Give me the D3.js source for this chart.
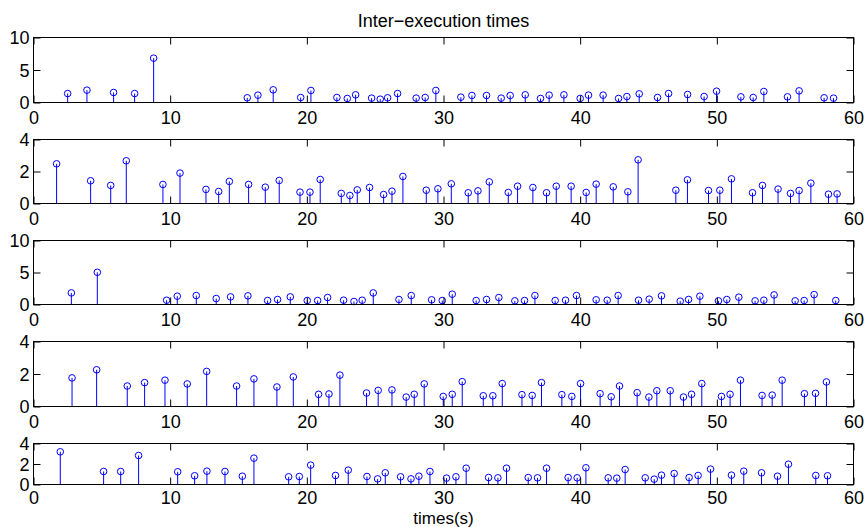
<!DOCTYPE html>
<html>
<head>
<meta charset="utf-8">
<script src="https://cdn.jsdelivr.net/npm/d3@7"></script>
<style>
  body { margin: 0; background: #fff; }
  svg text { font-family: "Liberation Sans", Arial, Helvetica, sans-serif; fill: #000; }
</style>
</head>
<body>
<div id="chart"></div>
<script>
// Inter-execution times, one stem panel per task
const t1 = [2.50, 3.91, 5.86, 7.40, 8.79, 15.64, 16.42, 17.54, 19.55, 20.30, 22.20, 22.96, 23.57, 24.74, 25.37, 25.91, 26.64, 28.00, 28.66, 29.44,
  31.27, 32.08, 33.15, 34.22, 34.88, 35.98, 37.10, 37.73, 38.81, 40.00, 40.61, 41.68, 42.81, 43.42, 44.32, 45.66, 46.47, 47.86, 49.07, 49.98,
  51.76, 52.66, 53.44, 55.17, 56.02, 57.85, 58.54];
const v1 = [1.38, 1.90, 1.54, 1.38, 6.82, 0.72, 1.13, 1.95, 0.77, 1.85, 0.77, 0.62, 1.18, 0.67, 0.51, 0.72, 1.38, 0.67, 0.77, 1.85,
  0.82, 1.08, 1.08, 0.67, 1.08, 1.18, 0.62, 1.13, 1.18, 0.62, 1.13, 1.13, 0.62, 0.92, 1.33, 0.77, 1.38, 1.23, 0.92, 1.74,
  0.87, 0.77, 1.69, 0.87, 1.79, 0.72, 0.67];

const t2 = [1.69, 4.18, 5.65, 6.79, 9.47, 10.72, 12.62, 13.55, 14.33, 15.74, 16.96, 17.98, 19.50, 20.23, 20.98, 22.52, 23.15, 23.69, 24.59, 25.62,
  26.23, 27.03, 28.74, 29.59, 30.57, 31.81, 32.52, 33.35, 34.74, 35.42, 36.54, 37.54, 38.25, 39.34, 40.44, 41.17, 42.42, 43.49, 44.24, 47.00,
  47.85, 49.39, 50.22, 51.07, 52.61, 53.34, 54.48, 55.39, 56.02, 56.88, 58.17, 58.80];
const v2 = [2.48, 1.42, 1.13, 2.67, 1.19, 1.90, 0.88, 0.75, 1.38, 1.19, 1.02, 1.44, 0.71, 0.71, 1.50, 0.63, 0.50, 0.85, 1.00, 0.56,
  0.77, 1.69, 0.83, 0.92, 1.23, 0.67, 0.79, 1.35, 0.69, 1.08, 1.00, 0.67, 1.08, 1.08, 0.69, 1.21, 1.04, 0.73, 2.73, 0.83,
  1.48, 0.81, 0.83, 1.54, 0.67, 1.13, 0.90, 0.63, 0.81, 1.27, 0.58, 0.60];

const t3 = [2.77, 4.67, 9.74, 10.52, 11.91, 13.37, 14.42, 15.69, 17.13, 17.86, 18.79, 20.03, 20.79, 21.52, 22.69, 23.45, 24.05, 24.86, 26.74, 27.64,
  29.13, 29.91, 30.64, 32.39, 33.15, 34.05, 35.22, 35.93, 36.69, 38.17, 38.93, 39.73, 41.17, 41.98, 42.78, 44.27, 45.05, 45.95, 47.32, 47.93,
  48.76, 50.12, 50.73, 51.61, 52.80, 53.44, 54.19, 55.73, 56.39, 57.12, 58.70];
const v3 = [1.81, 5.03, 0.67, 1.30, 1.40, 0.93, 1.19, 1.35, 0.62, 0.78, 1.19, 0.62, 0.62, 1.09, 0.67, 0.47, 0.67, 1.81, 0.78, 1.40,
  0.73, 0.62, 1.61, 0.62, 0.78, 1.09, 0.57, 0.62, 1.40, 0.62, 0.67, 1.40, 0.73, 0.67, 1.40, 0.67, 0.83, 1.35, 0.52, 0.78,
  1.30, 0.57, 0.78, 1.14, 0.57, 0.67, 1.50, 0.57, 0.62, 1.55, 0.62];

const t4 = [2.82, 4.62, 6.86, 8.13, 9.62, 11.25, 12.67, 14.86, 16.13, 17.81, 19.01, 20.86, 21.62, 22.42, 24.37, 25.22, 26.23, 27.27, 27.86, 28.59,
  29.98, 30.64, 31.37, 32.91, 33.61, 34.30, 35.74, 36.49, 37.17, 38.66, 39.39, 40.03, 41.46, 42.27, 42.88, 44.17, 45.03, 45.61, 46.59, 47.56,
  48.15, 48.90, 50.34, 50.97, 51.73, 53.31, 54.05, 54.78, 56.41, 57.22, 58.02];
const v4 = [1.76, 2.26, 1.26, 1.47, 1.62, 1.39, 2.16, 1.26, 1.70, 1.20, 1.82, 0.75, 0.77, 1.93, 0.83, 0.99, 1.02, 0.58, 0.75, 1.39,
  0.62, 0.75, 1.53, 0.66, 0.66, 1.41, 0.73, 0.68, 1.47, 0.73, 0.62, 1.41, 0.79, 0.60, 1.26, 0.85, 0.58, 0.97, 0.97, 0.58,
  0.75, 1.41, 0.62, 0.75, 1.62, 0.68, 0.70, 1.62, 0.79, 0.81, 1.51];

const t5 = [1.96, 5.13, 6.38, 7.69, 10.55, 11.79, 12.69, 14.01, 15.28, 16.13, 18.67, 19.45, 20.28, 22.10, 23.03, 24.40, 25.18, 25.74, 26.86, 27.62,
  28.20, 29.01, 30.22, 30.91, 31.66, 33.30, 33.98, 34.61, 36.20, 36.88, 37.54, 39.12, 39.78, 40.42, 42.05, 42.68, 43.29, 44.76, 45.42, 45.95,
  46.88, 47.97, 48.63, 49.54, 51.07, 51.97, 53.27, 54.44, 55.24, 57.24, 58.10];
const v5 = [3.19, 1.27, 1.27, 2.83, 1.24, 0.85, 1.30, 1.27, 0.81, 2.57, 0.75, 0.78, 1.89, 0.88, 1.40, 0.78, 0.55, 1.14, 0.75, 0.55,
  0.81, 1.27, 0.62, 0.75, 1.59, 0.68, 0.65, 1.59, 0.68, 0.65, 1.59, 0.68, 0.65, 1.63, 0.65, 0.62, 1.46, 0.65, 0.52, 0.91,
  1.07, 0.68, 0.88, 1.50, 0.91, 1.30, 1.14, 0.81, 1.98, 0.88, 0.85];

const panelTimes = [t1, t2, t3, t4, t5];
const panelValues = [v1, v2, v3, v4, v5];
const panelYMax = [10, 4, 10, 4, 4];
const panelYTicks = [[0, 5, 10], [0, 2, 4], [0, 5, 10], [0, 2, 4], [0, 2, 4]];
const xTicks = [0, 10, 20, 30, 40, 50, 60];

const titleText = "Inter\u2212execution times";
const xLabelText = "times(s)";

// layout
const width = 866, height = 527;
const plotLeft = 33.5, plotRight = 853.5;
const tops = [37.5, 139.5, 240.5, 341.5, 443.5];
const bottoms = [102.5, 203.5, 304.5, 406.5, 484.5];
const tickLen = 7;
const fontSize = 18;
const stemColor = "#0000ff";

const svg = d3.select("#chart")
  .append("svg")
  .attr("width", width)
  .attr("height", height);

const xScale = d3.scaleLinear().domain([0, 60]).range([plotLeft, plotRight]);

panelTimes.forEach((times, i) => {
  const vals = panelValues[i];
  const yScale = d3.scaleLinear().domain([0, panelYMax[i]]).range([bottoms[i], tops[i]]);
  const g = svg.append("g");

  // stems
  g.selectAll("line.stem")
    .data(times)
    .join("line")
    .attr("class", "stem")
    .attr("x1", d => xScale(d))
    .attr("x2", d => xScale(d))
    .attr("y1", yScale(0))
    .attr("y2", (d, j) => yScale(vals[j]))
    .attr("stroke", stemColor)
    .attr("stroke-width", 1);

  // markers
  g.selectAll("circle.marker")
    .data(times)
    .join("circle")
    .attr("class", "marker")
    .attr("cx", d => xScale(d))
    .attr("cy", (d, j) => yScale(vals[j]))
    .attr("r", 3.3)
    .attr("fill", "none")
    .attr("stroke", stemColor)
    .attr("stroke-width", 1);

  // axes: bottom with labels, top / left / right as inward ticks
  const xBottom = g.append("g")
    .attr("transform", `translate(0,${bottoms[i]})`)
    .call(d3.axisBottom(xScale).tickValues(xTicks).tickSize(-tickLen).tickPadding(0).tickFormat(d3.format("d")));
  xBottom.selectAll("text")
    .attr("dy", null)
    .attr("y", i === 4 ? 19.5 : 21)
    .style("font-size", fontSize + "px");

  g.append("g")
    .attr("transform", `translate(0,${tops[i]})`)
    .call(d3.axisTop(xScale).tickValues(xTicks).tickSize(-tickLen).tickFormat(""));

  const yLeft = g.append("g")
    .attr("transform", `translate(${plotLeft},0)`)
    .call(d3.axisLeft(yScale).tickValues(panelYTicks[i]).tickSize(-tickLen).tickPadding(0).tickFormat(d3.format("d")));
  yLeft.selectAll("text")
    .attr("x", -4)
    .attr("dy", "0.36em")
    .style("font-size", fontSize + "px");

  g.append("g")
    .attr("transform", `translate(${plotRight},0)`)
    .call(d3.axisRight(yScale).tickValues(panelYTicks[i]).tickSize(-tickLen).tickFormat(""));

  g.selectAll(".domain").remove();
  g.selectAll(".tick line").attr("stroke", "#000");

  // box
  g.append("rect")
    .attr("x", plotLeft)
    .attr("y", tops[i])
    .attr("width", plotRight - plotLeft)
    .attr("height", bottoms[i] - tops[i])
    .attr("fill", "none")
    .attr("stroke", "#000")
    .attr("stroke-width", 1);
});

svg.append("text")
  .attr("x", (plotLeft + plotRight) / 2)
  .attr("y", 27)
  .attr("text-anchor", "middle")
  .style("font-size", fontSize + "px")
  .text(titleText);

svg.append("text")
  .attr("x", (plotLeft + plotRight) / 2)
  .attr("y", 523.5)
  .attr("text-anchor", "middle")
  .style("font-size", "17px")
  .text(xLabelText);
</script>
</body>
</html>
